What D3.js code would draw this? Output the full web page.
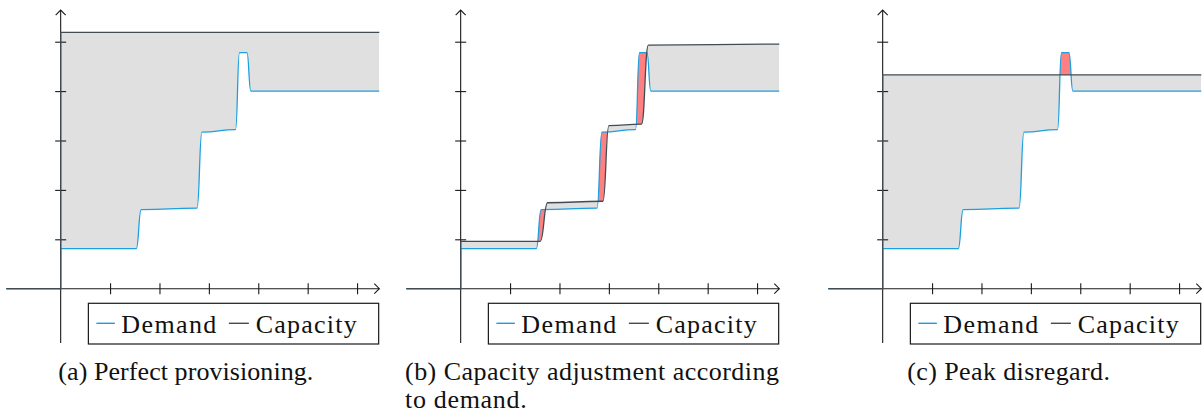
<!DOCTYPE html>
<html>
<head>
<meta charset="utf-8">
<script src="https://cdn.jsdelivr.net/npm/d3@7"></script>
<style>
  body { margin: 0; background: #fff; }
</style>
</head>
<body>
<svg id="chart" width="1203" height="419"></svg>
<script>
// tick positions (no labels in the figure)
const xTicks = [1, 2, 3, 4, 5, 6];
const yTicks = [1, 2, 3, 4, 5];
const xExtent = [-1.1, 6.45];
const yExtent = [-1.1, 5.64];

// demand curve, same in every panel: [time, load]
const demand = [[-1.1, 0], [0, 0], [0, 0.81], [1.53, 0.81], [1.63, 1.6],
  [2.76, 1.63], [2.86, 3.17], [3.54, 3.22], [3.62, 4.78], [3.77, 4.78],
  [3.85, 4.0], [6.45, 4.0]];

// capacity curves
const capacityA = [[-1.1, 0], [0, 0], [0, 5.19], [6.45, 5.19]];
const capacityB = [[-1.1, 0], [0, 0], [0, 0.96], [1.61, 0.96], [1.76, 1.74],
  [2.88, 1.77], [3.0, 3.3], [3.66, 3.33], [3.8, 4.93], [6.45, 4.95]];
const capacityC = [[-1.1, 0], [0, 0], [0, 4.33], [6.45, 4.33]];

const legendLabels = ["Demand", "Capacity"];
const captions = [
  ["(a) Perfect provisioning."],
  ["(b) Capacity adjustment according", "to demand."],
  ["(c) Peak disregard."]
];
const capacities = [capacityA, capacityB, capacityC];

// layout
const unit = 49.4;
const oy = 288.7;
const origins = [60.67, 460.67, 882.67];
const captionX = [58.3, 405, 907.3];
const captionW = [[255], [374, 121.7], [202.7]];

const demandColor = "#1a9fdf";
const capColor = "#414b54";
const axisColor = "#1a1a1a";
const serif = "'Liberation Serif', 'Times New Roman', serif";

const svg = d3.select("#chart");

origins.forEach(function (ox, i) {
  const g = svg.append("g");
  const cap = capacities[i];

  const x = d3.scaleLinear().domain(xExtent)
    .range([ox + xExtent[0] * unit, ox + xExtent[1] * unit]);
  const y = d3.scaleLinear().domain(yExtent)
    .range([oy - yExtent[0] * unit, oy - yExtent[1] * unit]);
  const top = y(yExtent[1]), bottom = y(yExtent[0]);

  const line = d3.line().x(d => x(d[0])).y(d => y(d[1])).curve(d3.curveBumpX);
  const areaUp = d3.area().x(d => x(d[0])).y0(d => y(d[1])).y1(top).curve(d3.curveBumpX);
  const areaDown = d3.area().x(d => x(d[0])).y0(bottom).y1(d => y(d[1])).curve(d3.curveBumpX);

  const defs = g.append("defs");
  defs.append("clipPath").attr("id", "belowCap" + i)
    .append("path").attr("d", areaDown(cap));
  defs.append("clipPath").attr("id", "aboveCap" + i)
    .append("path").attr("d", areaUp(cap));

  // over-provisioned (grey) and under-provisioned (red)
  g.append("path").attr("d", areaUp(demand))
    .attr("fill", "#e0e0e0").attr("clip-path", "url(#belowCap" + i + ")");
  g.append("path").attr("d", areaDown(demand))
    .attr("fill", "#ff8080").attr("clip-path", "url(#aboveCap" + i + ")");

  // axes
  const xAxis = d3.axisBottom(x).tickValues(xTicks).tickSize(11).tickFormat("");
  const yAxis = d3.axisLeft(y).tickValues(yTicks).tickSize(11).tickFormat("");
  const gx = g.append("g").attr("transform", `translate(0,${oy - 5.5})`).call(xAxis);
  const gy = g.append("g").attr("transform", `translate(${ox + 5.5},0)`).call(yAxis);
  [gx, gy].forEach(a => {
    a.select(".domain").remove();
    a.selectAll("line").attr("stroke", axisColor).attr("stroke-width", 1.1);
  });

  const xEnd = x(xExtent[1]), yEnd = y(yExtent[1]);
  g.append("line").attr("x1", x(xExtent[0])).attr("x2", xEnd).attr("y1", oy).attr("y2", oy)
    .attr("stroke", axisColor).attr("stroke-width", 1.1);
  g.append("line").attr("x1", ox).attr("x2", ox).attr("y1", bottom).attr("y2", yEnd)
    .attr("stroke", axisColor).attr("stroke-width", 1.1);
  g.append("path").attr("d", `M${xEnd - 5},${oy - 5}L${xEnd},${oy}L${xEnd - 5},${oy + 5}`)
    .attr("fill", "none").attr("stroke", axisColor).attr("stroke-width", 1.1);
  g.append("path").attr("d", `M${ox - 5},${yEnd + 5}L${ox},${yEnd}L${ox + 5},${yEnd + 5}`)
    .attr("fill", "none").attr("stroke", axisColor).attr("stroke-width", 1.1);

  // curves (capacity on top)
  g.append("path").attr("d", line(demand)).attr("fill", "none")
    .attr("stroke", demandColor).attr("stroke-width", 1.3);
  g.append("path").attr("d", line(cap)).attr("fill", "none")
    .attr("stroke", capColor).attr("stroke-width", 1.3);

  // legend
  const lg = g.append("g").attr("transform", `translate(${ox + 27.7},303.3)`);
  lg.append("rect").attr("width", 290.3).attr("height", 40.7)
    .attr("fill", "#fff").attr("stroke", axisColor).attr("stroke-width", 1.2);
  const entries = [
    { c: demandColor, x0: 8, x1: 26.5, tx: 33, tw: 95 },
    { c: capColor, x0: 140.5, x1: 160.5, tx: 167.3, tw: 101 }
  ];
  entries.forEach((e, k) => {
    lg.append("line").attr("x1", e.x0).attr("x2", e.x1).attr("y1", 20).attr("y2", 20)
      .attr("stroke", e.c).attr("stroke-width", 1.4);
    lg.append("text").attr("x", e.tx).attr("y", 29.4)
      .attr("font-family", serif).attr("font-size", 26).attr("fill", "#111")
      .attr("textLength", e.tw).attr("lengthAdjust", "spacing")
      .text(legendLabels[k]);
  });

  // caption
  captions[i].forEach((t, k) => {
    g.append("text").attr("x", captionX[i]).attr("y", 380 + k * 28.3)
      .attr("font-family", serif).attr("font-size", 26).attr("fill", "#111")
      .attr("textLength", captionW[i][k]).attr("lengthAdjust", "spacing")
      .text(t);
  });
});
</script>
</body>
</html>
